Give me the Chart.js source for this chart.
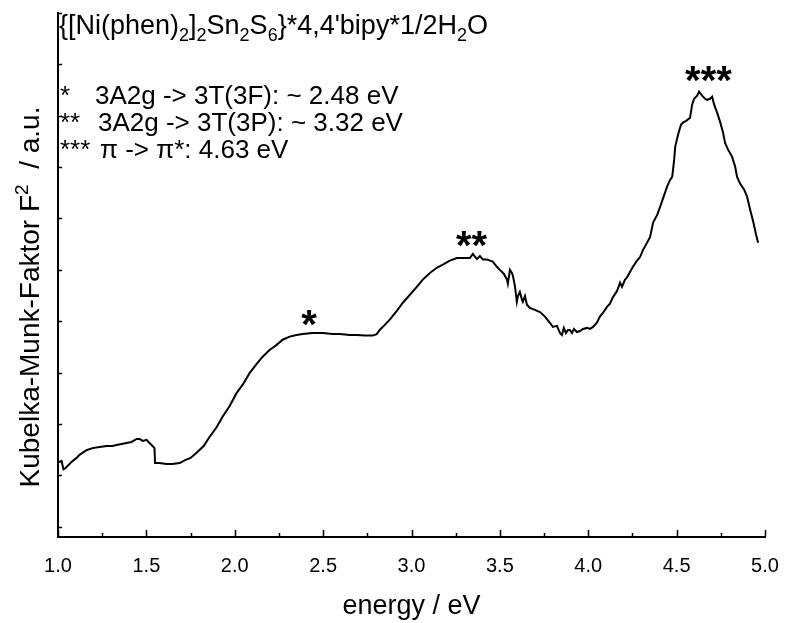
<!DOCTYPE html>
<html>
<head>
<meta charset="utf-8">
<script src="https://cdn.jsdelivr.net/npm/chart.js@4.4.1/dist/chart.umd.min.js"></script>
<style>
    html, body { margin: 0; padding: 0; background: #fff; }
    #wrap { width: 785px; height: 623px; }
</style>
</head>
<body>
<div id="wrap"><canvas id="kmChart" width="785" height="623"></canvas></div>
<script>
// Messdaten: Photonenenergie (eV) und Kubelka-Munk-Funktion F^2 (a.u.)
const energy = [
    1.000, 1.008, 1.020, 1.031, 1.042, 1.076, 1.105, 1.122, 1.161, 1.195,
    1.235, 1.275, 1.309, 1.331, 1.360, 1.388, 1.416, 1.445, 1.462, 1.479,
    1.501, 1.518, 1.535, 1.546, 1.549, 1.574, 1.614, 1.648, 1.688, 1.722,
    1.750, 1.784, 1.824, 1.858, 1.898, 1.931, 1.971, 2.010, 2.044, 2.084,
    2.124, 2.158, 2.197, 2.237, 2.271, 2.311, 2.350, 2.384, 2.441, 2.498,
    2.554, 2.594, 2.651, 2.690, 2.736, 2.781, 2.803, 2.820, 2.849, 2.877,
    2.917, 2.951, 2.990, 3.030, 3.064, 3.104, 3.143, 3.177, 3.217, 3.257,
    3.291, 3.330, 3.347, 3.370, 3.387, 3.404, 3.427, 3.444, 3.460, 3.483,
    3.500, 3.523, 3.540, 3.545, 3.557, 3.568, 3.574, 3.585, 3.596, 3.602,
    3.613, 3.625, 3.630, 3.642, 3.653, 3.670, 3.698, 3.727, 3.755, 3.783,
    3.800, 3.823, 3.840, 3.851, 3.862, 3.874, 3.885, 3.896, 3.908, 3.919,
    3.936, 3.953, 3.970, 3.993, 4.010, 4.027, 4.049, 4.066, 4.083, 4.106,
    4.123, 4.140, 4.163, 4.180, 4.191, 4.208, 4.219, 4.236, 4.253, 4.276,
    4.293, 4.310, 4.333, 4.350, 4.367, 4.390, 4.407, 4.424, 4.446, 4.463,
    4.475, 4.486, 4.492, 4.508, 4.525, 4.537, 4.554, 4.576, 4.588, 4.599,
    4.616, 4.627, 4.644, 4.661, 4.672, 4.689, 4.701, 4.712, 4.729, 4.746,
    4.763, 4.774, 4.791, 4.814, 4.831, 4.842, 4.859, 4.882, 4.899, 4.916,
    4.933, 4.950, 4.961
];
const kmValue = [
    1.26, 1.26, 1.28, 1.12, 1.14, 1.26, 1.34, 1.40, 1.49, 1.53,
    1.55, 1.57, 1.57, 1.59, 1.61, 1.63, 1.65, 1.71, 1.71, 1.67,
    1.69, 1.63, 1.57, 1.53, 1.24, 1.24, 1.22, 1.22, 1.24, 1.30,
    1.34, 1.44, 1.57, 1.75, 1.94, 2.14, 2.35, 2.60, 2.76, 2.99,
    3.17, 3.31, 3.44, 3.54, 3.64, 3.70, 3.73, 3.75, 3.77, 3.77,
    3.75, 3.75, 3.73, 3.73, 3.72, 3.72, 3.75, 3.83, 3.93, 4.03,
    4.20, 4.36, 4.51, 4.67, 4.81, 4.94, 5.04, 5.10, 5.18, 5.23,
    5.23, 5.23, 5.31, 5.21, 5.27, 5.20, 5.20, 5.18, 5.16, 5.06,
    5.00, 4.92, 4.81, 4.73, 5.00, 4.94, 4.88, 4.69, 4.38, 4.49,
    4.57, 4.42, 4.38, 4.49, 4.32, 4.26, 4.22, 4.18, 4.09, 3.97,
    3.89, 3.91, 3.77, 3.73, 3.87, 3.77, 3.83, 3.83, 3.77, 3.85,
    3.79, 3.81, 3.85, 3.87, 3.85, 3.89, 3.97, 4.09, 4.16, 4.28,
    4.34, 4.47, 4.59, 4.75, 4.67, 4.81, 4.85, 4.96, 5.06, 5.18,
    5.25, 5.39, 5.53, 5.64, 5.92, 6.07, 6.23, 6.40, 6.62, 6.75,
    6.81, 7.14, 7.40, 7.63, 7.83, 7.87, 7.90, 7.96, 8.22, 8.33,
    8.39, 8.47, 8.39, 8.33, 8.31, 8.33, 8.37, 8.22, 8.06, 7.88,
    7.67, 7.47, 7.34, 7.20, 7.01, 6.81, 6.68, 6.56, 6.42, 6.17,
    5.94, 5.68, 5.53
];

// Achsenteilung
const xTicks = [1.0, 1.5, 2.0, 2.5, 3.0, 3.5, 4.0, 4.5, 5.0];
const xTickLabels = ['1.0', '1.5', '2.0', '2.5', '3.0', '3.5', '4.0', '4.5', '5.0'];
const xMinorTicks = [1.25, 1.75, 2.25, 2.75, 3.25, 3.75, 4.25, 4.75];
const yTicks = [0, 1, 2, 3, 4, 5, 6, 7, 8, 9, 10];

// Banden-Markierungen (Sternchen) in Datenkoordinaten
const peakMarks = ['*', '**', '***'];
const peakEnergy = [2.42, 3.34, 4.68];
const peakLevel = [3.68, 5.21, 8.42];

// Beschriftungen: [Text, 0 = normal, -1 = tiefgestellt, 1 = hochgestellt]
const titleParts = [
    ['{[Ni(phen)', 0], ['2', -1], [']', 0], ['2', -1], ['Sn', 0], ['2', -1],
    ['S', 0], ['6', -1], ["}*4,4'bipy*1/2H", 0], ['2', -1], ['O', 0]
];
const legendPrefix = ['*', '**', '***'];
const legendText = ['3A2g -> 3T(3F): ~ 2.48 eV', '3A2g -> 3T(3P): ~ 3.32 eV', '\u03C0 -> \u03C0*: 4.63 eV'];
const yTitleParts = [['Kubelka-Munk-Faktor F', 0], ['2', 1], ['  / a.u.', 0]];

const FONT = "'Liberation Sans', Arial, sans-serif";

function partFont(shift, size) {
    return (shift === 0 ? size : Math.round(size * 0.68)) + 'px ' + FONT;
}

// Text mit Hoch-/Tiefstellung zeichnen
function drawRich(ctx, parts, x, y, size, align) {
    const widths = parts.map(function (p) {
        ctx.font = partFont(p[1], size);
        return ctx.measureText(p[0]).width;
    });
    const total = widths.reduce(function (a, b) { return a + b; }, 0);
    let cx = align === 'center' ? x - total / 2 : x;
    parts.forEach(function (p, i) {
        ctx.font = partFont(p[1], size);
        const dy = p[1] < 0 ? size * 0.25 : (p[1] > 0 ? -size * 0.38 : 0);
        ctx.fillText(p[0], cx, y + dy);
        cx += widths[i];
    });
}

const annotationPlugin = {
    id: 'kmAnnotations',
    afterDraw: function (chart) {
        const ctx = chart.ctx;
        const xs = chart.scales.x;
        const ys = chart.scales.y;
        const area = chart.chartArea;
        ctx.save();
        ctx.fillStyle = '#000';
        ctx.strokeStyle = '#000';

        // Innenliegende Teilstriche
        ctx.lineWidth = 1.5;
        ctx.beginPath();
        xTicks.concat(xMinorTicks).forEach(function (v) {
            const px = Math.round(xs.getPixelForValue(v)) + 0.5;
            const len = xTicks.indexOf(v) >= 0 ? 7 : 4;
            ctx.moveTo(px, area.bottom);
            ctx.lineTo(px, area.bottom - len);
        });
        yTicks.forEach(function (v) {
            const py = Math.round(ys.getPixelForValue(v)) + 0.5;
            ctx.moveTo(area.left, py);
            ctx.lineTo(area.left + 4, py);
        });
        ctx.stroke();

        // Titel und Legende
        ctx.textAlign = 'left';
        ctx.textBaseline = 'alphabetic';
        drawRich(ctx, titleParts, area.left + 1, 34, 27, 'left');
        ctx.font = '26px ' + FONT;
        const legendX = [95, 98, 100];
        legendPrefix.forEach(function (p, i) {
            const by = 104 + i * 27;
            ctx.fillText(p, area.left + 2, by);
            ctx.fillText(legendText[i], legendX[i], by);
        });

        // Sternchen ueber den Banden
        ctx.font = 'bold 40px ' + FONT;
        ctx.textAlign = 'center';
        peakMarks.forEach(function (m, i) {
            ctx.fillText(m, xs.getPixelForValue(peakEnergy[i]), ys.getPixelForValue(peakLevel[i]));
        });

        // y-Achsentitel (gedreht)
        ctx.translate(39, 297);
        ctx.rotate(-Math.PI / 2);
        ctx.textAlign = 'left';
        drawRich(ctx, yTitleParts, 0, 0, 28, 'center');
        ctx.restore();
    }
};

const kmChart = new Chart(document.getElementById('kmChart'), {
    type: 'line',
    data: {
        datasets: [{
            data: energy.map(function (e, i) { return { x: e, y: kmValue[i] }; }),
            borderColor: '#000',
            borderWidth: 2,
            pointRadius: 0,
            tension: 0,
            fill: false
        }]
    },
    options: {
        responsive: false,
        animation: false,
        layout: { padding: { top: 13, right: 20, left: 0, bottom: 0 } },
        plugins: {
            legend: { display: false },
            tooltip: { enabled: false }
        },
        scales: {
            x: {
                type: 'linear',
                min: 1,
                max: 5,
                afterFit: function (s) {
                    s.height = 86;
                    s.paddingLeft = 0;
                    s.paddingRight = 0;
                },
                afterBuildTicks: function (s) {
                    s.ticks = xTicks.map(function (v) { return { value: v }; });
                },
                grid: { display: false, drawTicks: false },
                border: { display: true, color: '#000', width: 2 },
                ticks: {
                    autoSkip: false,
                    maxRotation: 0,
                    padding: 17,
                    color: '#000',
                    font: { family: FONT, size: 20 },
                    callback: function (value) {
                        const i = xTicks.indexOf(value);
                        return i >= 0 ? xTickLabels[i] : '';
                    }
                },
                title: {
                    display: true,
                    text: 'energy / eV',
                    color: '#000',
                    font: { family: FONT, size: 27 },
                    padding: { top: 0, bottom: 0 }
                }
            },
            y: {
                type: 'linear',
                min: -0.2,
                max: 10,
                afterFit: function (s) {
                    s.width = 58;
                    s.paddingTop = 0;
                    s.paddingBottom = 0;
                },
                afterBuildTicks: function (s) {
                    s.ticks = yTicks.map(function (v) { return { value: v }; });
                },
                grid: { display: false, drawTicks: false },
                border: { display: true, color: '#000', width: 2 },
                ticks: { display: false }
            }
        }
    },
    plugins: [annotationPlugin]
});
</script>
</body>
</html>
